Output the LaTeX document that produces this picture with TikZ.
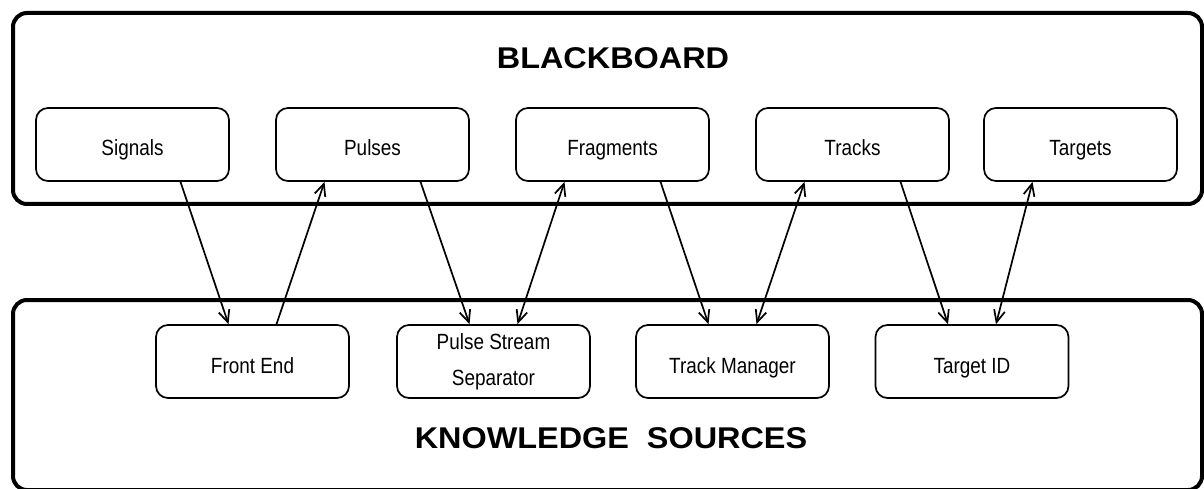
\documentclass[tikz,border=0pt]{standalone}
\usepackage{fontspec}
\setmainfont{Liberation Sans}
\newfontfamily\boxfont[FakeStretch=0.86]{Liberation Sans}
\newfontfamily\headfont[FakeStretch=1.08]{Liberation Sans Bold}
\usetikzlibrary{arrows.meta}

\tikzset{
  board/.style={draw, line width=4pt, rounded corners=14pt},
  itembox/.style={draw, line width=1.7pt, rounded corners=12pt, minimum width=193pt,
    minimum height=73pt, inner sep=0pt, align=center,
    font=\boxfont\fontsize{22}{36}\selectfont},
  item/.style={itembox, text height=28pt, text depth=5pt},
  heading/.style={font=\headfont\fontsize{30}{36}\selectfont},
  tip/.tip={Straight Barb[length=12pt,width=11pt]},
  flow/.style={line width=1.7pt, -tip},
  twoway/.style={line width=1.7pt, tip-tip}
}

\begin{document}
\begin{tikzpicture}[x=1pt,y=-1pt]
  \useasboundingbox (0,0) rectangle (1204,489);
  \draw[board] (13,13) rectangle (1202,204);
  \draw[board] (13,300) rectangle (1202,490);
  \node[heading] (bb) at (613,58) {BLACKBOARD};
  \node[heading] (ks) at (611,438) {KNOWLEDGE\ \ SOURCES};

  \node[item] (signals) at (132.5,144.5) {Signals};
  \node[item] (pulses) at (372.5,144.5) {Pulses};
  \node[item] (fragments) at (612.5,144.5) {Fragments};
  \node[item] (tracks) at (852.5,144.5) {Tracks};
  \node[item] (targets) at (1080.5,144.5) {Targets};

  \node[item] (frontend) at (252.5,361.5) {Front End};
  \node[itembox] (separator) at (493.5,361.5) {Pulse Stream\\Separator};
  \node[item] (manager) at (732.5,361.5) {Track Manager};
  \node[item] (targetid) at (972,361.5) {Target ID};

  \draw[flow] ([xshift=48pt]signals.south) -- ([xshift=-24pt]frontend.north);
  \draw[flow] ([xshift=24pt]frontend.north) -- ([xshift=-48pt]pulses.south);
  \draw[flow] ([xshift=48pt]pulses.south) -- ([xshift=-24pt]separator.north);
  \draw[twoway] ([xshift=24pt]separator.north) -- ([xshift=-48pt]fragments.south);
  \draw[flow] ([xshift=48pt]fragments.south) -- ([xshift=-24pt]manager.north);
  \draw[twoway] ([xshift=24pt]manager.north) -- ([xshift=-48pt]tracks.south);
  \draw[flow] ([xshift=48pt]tracks.south) -- ([xshift=-24pt]targetid.north);
  \draw[twoway] ([xshift=24pt]targetid.north) -- ([xshift=-48pt]targets.south);
\end{tikzpicture}
\end{document}
